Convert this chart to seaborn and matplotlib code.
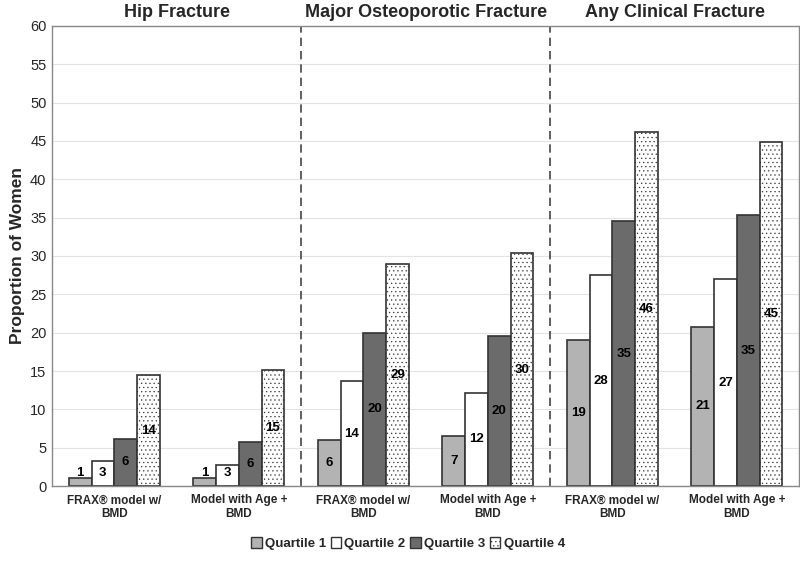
import pandas as pd
import seaborn as sns
import matplotlib.pyplot as plt
from matplotlib.transforms import blended_transform_factory

# データ
models = ["FRAX® model w/\nBMD", "Model with Age +\nBMD"]
outcomes = ["Hip Fracture", "Major Osteoporotic Fracture", "Any Clinical Fracture"]
quartiles = ["Quartile 1", "Quartile 2", "Quartile 3", "Quartile 4"]

q1 = [1.0, 1.1, 6.0, 6.5, 19.0, 20.8]
q2 = [3.3, 2.8, 13.7, 12.2, 27.5, 27.0]
q3 = [6.2, 5.8, 20.0, 19.6, 34.5, 35.3]
q4 = [14.5, 15.2, 29.0, 30.4, 46.2, 44.8]
labels = [[1, 1, 6, 7, 19, 21],
          [3, 3, 14, 12, 28, 27],
          [6, 6, 20, 20, 35, 35],
          [14, 15, 29, 30, 46, 45]]

cats = [f"{o}|{m}" for o in outcomes for m in models]
rows = []
for q, vals in zip(quartiles, [q1, q2, q3, q4]):
    for c, v in zip(cats, vals):
        rows.append({"cat": c, "quartile": q, "value": v})
df = pd.DataFrame(rows)

sns.set_style("white")
plt.rcParams['font.family'] = ['Liberation Sans', 'DejaVu Sans']
# 点々模様は薄いグレー
plt.rcParams['hatch.color'] = "#a0a0a0"
plt.rcParams['hatch.linewidth'] = 0.4

fig = plt.figure(figsize=(8, 5.62), dpi=100)
ax = fig.add_axes([0.065, 0.135, 0.934, 0.819])

sns.barplot(data=df, x="cat", y="value", hue="quartile", order=cats,
            hue_order=quartiles, width=0.73, ax=ax, legend=False)

faces = ["#b3b3b3", "white", "#6b6b6b", "white"]
for i, cont in enumerate(ax.containers):
    for j, bar in enumerate(cont):
        bar.set_facecolor(faces[i])
        bar.set_edgecolor("#333333")
        bar.set_linewidth(1.2)
        if i == 3:
            bar.set_hatch("....")
        h = bar.get_height()
        ax.text(bar.get_x() + bar.get_width() / 2, max(h / 2, 1.7),
                str(labels[i][j]), ha="center", va="center",
                fontsize=9.5, fontweight="bold", color="black")

ax.set_ylim(0, 60)
ax.set_yticks(range(0, 61, 5))
ax.set_xlim(-0.5, 5.5)
ax.yaxis.grid(True, color="#e3e3e3", linewidth=0.8)
ax.set_axisbelow(True)
ax.set_xticks(range(6))
ax.set_xticklabels(models * 3, fontsize=8.5, fontweight="bold")
ax.tick_params(axis="y", labelsize=10.5, length=0, pad=4)
ax.tick_params(axis="x", length=0, pad=6)
ax.set_xlabel("")
ax.set_ylabel("Proportion of Women", fontsize=12.5, fontweight="bold", labelpad=4)
for s in ax.spines.values():
    s.set_color("#888888")
    s.set_linewidth(1)

for x in [1.5, 3.5]:
    ax.axvline(x, color="#444444", linestyle=(0, (5, 3)), linewidth=1.2)

trans = blended_transform_factory(ax.transData, ax.transAxes)
for k, o in enumerate(outcomes):
    ax.text(2 * k + 0.5, 1.01, o, transform=trans, ha="center", va="bottom",
            fontsize=13, fontweight="bold")

handles = [plt.Rectangle((0, 0), 1, 1, facecolor=f, edgecolor="#333333",
                         hatch="...." if i == 3 else None)
           for i, f in enumerate(faces)]
fig.legend(handles, quartiles, loc="lower center", bbox_to_anchor=(0.51, 0.0),
           ncol=4, frameon=False, handlelength=0.8, handleheight=0.8,
           handletextpad=0.25, columnspacing=0.35,
           prop={"weight": "bold", "size": 9.5})

fig.savefig("out.png", dpi=100)
